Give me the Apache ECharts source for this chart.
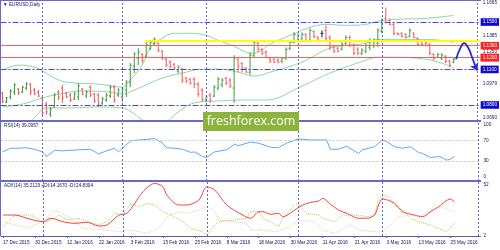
<!DOCTYPE html>
<html><head><meta charset="utf-8">
<script src="https://cdn.jsdelivr.net/npm/echarts@6/dist/echarts.min.js"></script>
<style>html,body{margin:0;padding:0;background:#fff}#c{width:500px;height:250px}</style>
</head><body><div id="c"></div>
<script>
// ---- data ----
const tickIndex = [0,8,16,24,32,40,48,56,64,72,80,88,96,104,112];
const tickLabels = ['17 Dec 2015','30 Dec 2015','12 Jan 2016','22 Jan 2016','3 Feb 2016','15 Feb 2016','25 Feb 2016','8 Mar 2016','18 Mar 2016','30 Mar 2016','11 Apr 2016','21 Apr 2016','3 May 2016','13 May 2016','25 May 2016'];
// [open, high, low, close]
const bars = [
[1.0901,1.0909,1.0817,1.0834],[1.0825,1.0867,1.0817,1.0859],[1.0867,1.0934,1.0850,1.0918],[1.0909,1.0985,1.0884,1.0968],
[1.0934,1.0943,1.0884,1.0901],[1.0909,1.0960,1.0901,1.0951],[1.0943,1.0993,1.0926,1.0976],[1.0976,1.0985,1.0884,1.0909],
[1.0926,1.0943,1.0884,1.0892],[1.0909,1.0926,1.0867,1.0876],[1.0859,1.0867,1.0699,1.0733],[1.0808,1.0825,1.0716,1.0741],
[1.0724,1.0783,1.0699,1.0766],[1.0792,1.0901,1.0775,1.0884],[1.0909,1.0926,1.0842,1.0867],[1.0943,1.0968,1.0817,1.0859],
[1.0901,1.0909,1.0859,1.0867],[1.0884,1.0901,1.0825,1.0842],[1.0850,1.0909,1.0842,1.0892],[1.0867,1.0985,1.0842,1.0960],
[1.0934,1.0943,1.0884,1.0892],[1.0876,1.0926,1.0859,1.0909],[1.0951,1.0968,1.0867,1.0884],[1.0892,1.0901,1.0817,1.0834],
[1.0884,1.0901,1.0783,1.0808],[1.0817,1.0867,1.0800,1.0850],[1.0842,1.0901,1.0825,1.0884],[1.0876,1.0968,1.0859,1.0951],
[1.0951,1.0968,1.0817,1.0842],[1.0884,1.0943,1.0867,1.0926],[1.0867,1.0951,1.0825,1.0934],[1.0926,1.1010,1.0867,1.0993],
[1.0993,1.1153,1.0951,1.1136],[1.1128,1.1245,1.1069,1.1228],[1.1195,1.1279,1.1136,1.1245],[1.1228,1.1237,1.1153,1.1178],
[1.1212,1.1329,1.1203,1.1312],[1.1279,1.1346,1.1262,1.1329],[1.1321,1.1371,1.1304,1.1354],[1.1321,1.1329,1.1245,1.1262],
[1.1254,1.1262,1.1178,1.1195],[1.1186,1.1195,1.1119,1.1136],[1.1161,1.1178,1.1111,1.1128],[1.1144,1.1153,1.1094,1.1111],
[1.1086,1.1136,1.1069,1.1119],[1.1102,1.1111,1.0985,1.1010],[1.1027,1.1035,1.0985,1.1002],[1.1018,1.1027,1.0968,1.0985],
[1.1018,1.1035,1.0943,1.0976],[1.0976,1.0993,1.0867,1.0892],[1.0926,1.0943,1.0825,1.0850],[1.0842,1.0884,1.0825,1.0867],
[1.0884,1.0901,1.0817,1.0842],[1.0876,1.0968,1.0867,1.0951],[1.0943,1.1035,1.0926,1.1018],[1.0968,1.1027,1.0951,1.1010],
[1.1027,1.1035,1.0968,1.0985],[1.1010,1.1027,1.0943,1.0960],[1.0943,1.1220,1.0817,1.1195],[1.1186,1.1195,1.1077,1.1128],
[1.1153,1.1161,1.1077,1.1111],[1.1111,1.1119,1.1069,1.1077],[1.1077,1.1245,1.1052,1.1220],[1.1220,1.1346,1.1203,1.1329],
[1.1321,1.1329,1.1245,1.1270],[1.1270,1.1279,1.1220,1.1237],[1.1245,1.1262,1.1195,1.1203],[1.1195,1.1203,1.1153,1.1170],
[1.1186,1.1195,1.1153,1.1161],[1.1178,1.1195,1.1153,1.1161],[1.1170,1.1203,1.1153,1.1195],[1.1195,1.1287,1.1178,1.1270],
[1.1279,1.1346,1.1262,1.1329],[1.1329,1.1413,1.1321,1.1396],[1.1346,1.1405,1.1329,1.1388],[1.1363,1.1413,1.1346,1.1396],
[1.1396,1.1405,1.1329,1.1346],[1.1346,1.1447,1.1329,1.1430],[1.1422,1.1430,1.1363,1.1380],[1.1371,1.1380,1.1329,1.1346],
[1.1405,1.1430,1.1371,1.1405],[1.1430,1.1472,1.1346,1.1363],[1.1371,1.1388,1.1262,1.1287],[1.1296,1.1304,1.1237,1.1254],
[1.1279,1.1287,1.1245,1.1254],[1.1270,1.1329,1.1262,1.1312],[1.1321,1.1388,1.1304,1.1371],[1.1371,1.1388,1.1287,1.1304],
[1.1304,1.1321,1.1220,1.1237],[1.1270,1.1287,1.1220,1.1237],[1.1237,1.1279,1.1220,1.1262],[1.1254,1.1321,1.1237,1.1304],
[1.1287,1.1363,1.1262,1.1346],[1.1304,1.1363,1.1279,1.1346],[1.1321,1.1447,1.1287,1.1430],[1.1422,1.1531,1.1405,1.1514],
[1.1531,1.1623,1.1489,1.1497],[1.1514,1.1531,1.1472,1.1480],[1.1480,1.1497,1.1388,1.1405],[1.1405,1.1413,1.1388,1.1396],
[1.1405,1.1413,1.1371,1.1380],[1.1396,1.1405,1.1363,1.1371],[1.1380,1.1447,1.1371,1.1430],[1.1405,1.1413,1.1363,1.1371],
[1.1363,1.1371,1.1304,1.1312],[1.1338,1.1346,1.1304,1.1312],[1.1338,1.1346,1.1304,1.1321],[1.1312,1.1321,1.1220,1.1237],
[1.1228,1.1237,1.1178,1.1195],[1.1203,1.1237,1.1195,1.1228],[1.1195,1.1237,1.1178,1.1220],[1.1212,1.1220,1.1153,1.1170],
[1.1170,1.1178,1.1119,1.1136],[1.1161,1.1195,1.1153,1.1186]
];
// Bollinger bands [bar index, price]
const upperBand = [[0,1.1094],[4,1.1136],[8,1.1119],[11,1.1069],[13,1.1027],[16,1.0993],[24,1.0976],[30,1.0951],[32,1.1010],[35,1.1136],[37,1.1279],[40,1.1363],[43,1.1405],[47,1.1405],[51,1.1388],[54,1.1346],[58,1.1295],[60,1.1262],[62,1.1237],[64,1.1245],[67,1.1312],[72,1.1388],[77,1.1455],[81,1.1480],[86,1.1472],[91,1.1480],[94,1.1506],[98,1.1522],[106,1.1531],[113,1.1556]];
const middleBand = [[0,1.0783],[5,1.0808],[10,1.0859],[14,1.0892],[20,1.0918],[27,1.0909],[30,1.0892],[33,1.0926],[37,1.0985],[40,1.1027],[45,1.1069],[50,1.1102],[54,1.1102],[59,1.1077],[63,1.1044],[67,1.1077],[75,1.1161],[82,1.1279],[91,1.1321],[94,1.1354],[106,1.1354],[113,1.1329]];
const lowerBand = [[0,1.0506],[5,1.0590],[8,1.0691],[11,1.0775],[16,1.0775],[24,1.0783],[30,1.0775],[33,1.0724],[35,1.0674],[38,1.0632],[41,1.0657],[44,1.0741],[48,1.0817],[54,1.0834],[62,1.0842],[66,1.0842],[75,1.0960],[82,1.1069],[91,1.1178],[94,1.1203],[98,1.1203],[106,1.1186],[110,1.1153],[113,1.1111]];
const rsi = [[0,48],[2,55],[4,55],[6,56],[8,53],[10,48],[11,39],[13,51],[15,50],[19,52],[22,53],[24,44],[26,50],[28,55],[29,48],[30,55],[32,69],[34,71],[36,72],[38,74],[40,65],[41,56],[43,55],[45,53],[47,47],[48,48],[50,39],[51,37],[53,48],[56,52],[58,63],[59,60],[62,67],[64,65],[67,57],[69,56],[71,65],[74,73],[77,71],[79,71],[81,71],[82,53],[84,53],[86,59],[89,45],[90,52],[93,58],[95,71],[96,68],[98,58],[100,55],[102,58],[104,47],[105,45],[107,37],[109,39],[110,37],[111,32],[112,34],[113,39.1]];
const adx = [[0,22.4],[3,22.4],[6,19.2],[10,15.8],[12,19.2],[15,15.8],[18,14.2],[21,15.2],[24,11.6],[26,12.6],[29,22.4],[31,24.1],[33,34],[35,45.4],[38,53.7],[40,50.3],[41,42.1],[44,32.3],[46,32.3],[49,37.2],[51,50.3],[53,47.1],[56,32.3],[60,22.4],[62,19.2],[64,25.7],[65,25.7],[67,23.1],[69,24.1],[70,20.7],[73,27.3],[75,32.3],[77,34.9],[79,36.2],[80,38.9],[82,33],[84,27.3],[86,24.1],[89,19.2],[91,19.2],[93,22.4],[94,32.3],[95,38.2],[98,34],[100,25.7],[103,22.4],[105,20.7],[107,25.7],[109,30.6],[112,38.2],[113,35.2]];
const plusDI = [[0,10.9],[3,22.4],[7,22.4],[10,15.8],[12,17],[14,22.4],[16,17.5],[19,19.2],[24,12.6],[26,15.8],[28,24.1],[30,22.4],[32,34],[34,30.6],[36,34],[38,32.3],[40,25.7],[42,22.4],[45,15.8],[47,9.3],[50,5.9],[51,2.7],[53,12.6],[54,15.8],[58,17.5],[61,19.2],[62,25.7],[64,25.7],[65,19.2],[67,15.8],[69,10.9],[70,19.2],[73,32.3],[74,33],[76,24.1],[79,22.4],[80,19.2],[83,15.8],[85,22.4],[89,22.4],[91,20.7],[93,22.4],[94,38.9],[96,42.1],[98,32.3],[100,27.3],[102,19.2],[104,15.8],[107,12.6],[110,7.6],[111,5.9],[113,14.2]];
const minusDI = [[0,15.8],[6,9.6],[10,15.8],[13,27.3],[17,19.5],[20,9.3],[26,7.6],[29,5.9],[31,7.6],[34,5.9],[36,4.4],[39,9.3],[41,20.7],[44,25.7],[46,24.1],[49,27.3],[51,30.6],[53,25.7],[54,17.5],[58,15.8],[61,14.2],[62,7.6],[65,7.6],[68,5.9],[72,10.9],[74,17.5],[78,15.8],[80,7.6],[83,4.4],[87,12.6],[89,7.6],[93,5.9],[95,5.9],[97,12.6],[99,20.7],[102,22.4],[104,20.7],[107,25.7],[108,34],[109,30.6],[112,27.3],[113,24.8]];
const blueLevels = [1.1520, 1.1102, 1.0817];
const redLevels = [1.1332, 1.1186, 1.1153];
const yellowLevel = 1.1344, yellowStart = 35.75;
const vLines = [10, 30, 51, 74, 95, 119];
const priceTicks = [1.1665, 1.1385, 1.1250, 1.0979, 1.0690];
const rsiTicks = [0, 30, 70, 100];
const adxTicks = [2, 52];
const arrowPath = [[113.6,1.1186],[114.6,1.1275],[115.6,1.1322],[116.6,1.1285],[117.6,1.1203],[118.5,1.1118]];
const arrowTip = [[118.5,1.1118],[118.9,1.1092]];

// ---- chart ----
const FONT = 'Liberation Sans';
const FS = 4.7;
const TXT = '#14145a';
const chart = echarts.init(document.getElementById('c'), null, {renderer:'canvas', width:500, height:250});
const vStyle = {color:'#6464d4', type:[2,2], width:1};
const vData = vLines.map(v => ({xAxis:v, lineStyle:vStyle}));
const baseMark = {
  symbol:['none','none'], silent:true, animation:false,
  label:{show:false, position:'end', distance:1, fontSize:FS, fontFamily:FONT, color:'#fff', padding:[1.6,2,1,2],
         formatter: p => Number(p.value).toFixed(4)}
};
const xAx = (g, show) => ({
  type:'value', gridIndex:g, min:-0.5, max:119.5, show: show,
  axisLine:{show:true, lineStyle:{color:'#5a5aa8', width:1}},
  axisTick:{show:true, customValues:tickIndex, length:2, lineStyle:{color:'#5a5aa8'}},
  splitLine:{show:false},
  axisLabel:{customValues:tickIndex, fontSize:FS, fontFamily:FONT, color:TXT, align:'left', margin:4,
    formatter: v => tickLabels[tickIndex.indexOf(Math.round(v))] || ''}
});
const yAx = (g, min, max, ticks, fmt) => ({
  type:'value', gridIndex:g, min:min, max:max, position:'right', scale:true,
  axisLine:{show:false}, axisTick:{show:false}, splitLine:{show:false},
  axisLabel:{customValues:ticks, fontSize:FS, fontFamily:FONT, color:TXT, margin:3, formatter:fmt}
});

const option = {
  animation:false,
  backgroundColor:'#ffffff',
  grid:[
    {left:0.5, width:480, top:0, height:121},
    {left:0.5, width:480, top:121, height:60},
    {left:0.5, width:480, top:181, height:55}
  ],
  xAxis:[xAx(0,false), xAx(1,false), xAx(2,true)],
  yAxis:[
    yAx(0, 1.06648, 1.16818, priceTicks, v => v.toFixed(4)),
    yAx(1, -8.3, 107.7, rsiTicks, v => String(Math.round(v))),
    yAx(2, 1.7, 56, adxTicks, v => String(Math.round(v)))
  ],
  series:[
    {type:'line', name:'upper', xAxisIndex:0, yAxisIndex:0, data:upperBand, smooth:0.4, showSymbol:false, symbol:'none',
     lineStyle:{color:'#8fd6a6', width:1}, z:2},
    {type:'line', name:'middle', xAxisIndex:0, yAxisIndex:0, data:middleBand, smooth:0.4, showSymbol:false, symbol:'none',
     lineStyle:{color:'#8fd6a6', width:1}, z:2},
    {type:'line', name:'lower', xAxisIndex:0, yAxisIndex:0, data:lowerBand, smooth:0.4, showSymbol:false, symbol:'none',
     lineStyle:{color:'#8fd6a6', width:1}, z:2},
    {type:'custom', name:'EURUSD', xAxisIndex:0, yAxisIndex:0, z:3,
     data: bars.map((b, i) => [i, b[0], b[1], b[2], b[3]]),
     encode:{x:0, y:[1,2,3,4]},
     renderItem:function(params, api){
       const i = api.value(0), o = api.value(1), h = api.value(2), l = api.value(3), c = api.value(4);
       const pH = api.coord([i,h]), pL = api.coord([i,l]), pO = api.coord([i,o]), pC = api.coord([i,c]);
       const col = c > o ? '#3f9b3f' : (c < o ? '#f05858' : '#222222');
       const st = {stroke:col, lineWidth:1};
       return {type:'group', children:[
         {type:'line', shape:{x1:pH[0], y1:pH[1], x2:pL[0], y2:pL[1]}, style:st},
         {type:'line', shape:{x1:pO[0]-1.5, y1:pO[1], x2:pO[0], y2:pO[1]}, style:st},
         {type:'line', shape:{x1:pC[0], y1:pC[1], x2:pC[0]+1.5, y2:pC[1]}, style:st}
       ]};
     },
     markLine: Object.assign({}, baseMark, {data:[
       ...vData,
       ...blueLevels.map(v => ({yAxis:v, lineStyle:{color:'#4646e0', type:[6,2,2,2], width:1},
                                 label:{show:true, backgroundColor:'#0b0bd0'}})),
       [{coord:[yellowStart, yellowLevel], lineStyle:{color:'#ffff00', width:2.2, type:'solid'}, label:{show:false}},
        {coord:[119.5, yellowLevel]}],
       ...redLevels.map(v => ({yAxis:v, lineStyle:{color:'#f06262', type:'solid', width:1},
                                label:{show:true, backgroundColor:'#ff2020'}}))
     ]})
    },
    {type:'line', name:'arrow', xAxisIndex:0, yAxisIndex:0, data:arrowPath, smooth:0.5, showSymbol:false, symbol:'none',
     lineStyle:{color:'#2a2ad6', width:1.8}, z:6},
    {type:'lines', name:'arrowHead', coordinateSystem:'cartesian2d', xAxisIndex:0, yAxisIndex:0, z:6,
     polyline:false, symbol:['none','arrow'], symbolSize:7,
     lineStyle:{color:'#2a2ad6', width:1.8, opacity:1},
     data:[{coords:arrowTip}]},
    {type:'line', name:'RSI', xAxisIndex:1, yAxisIndex:1, data:rsi, showSymbol:false, symbol:'none',
     lineStyle:{color:'#5aaaf0', width:1}, z:3,
     markLine: Object.assign({}, baseMark, {data:[
       {yAxis:70, lineStyle:{color:'#c4c4c4', type:[2,2], width:1}},
       {yAxis:30, lineStyle:{color:'#c4c4c4', type:[2,2], width:1}},
       ...vData
     ]})
    },
    {type:'line', name:'ADX', xAxisIndex:2, yAxisIndex:2, data:adx, smooth:0.3, showSymbol:false, symbol:'none',
     lineStyle:{color:'#f04444', width:1}, z:4,
     markLine: Object.assign({}, baseMark, {data:vData})
    },
    {type:'line', name:'+DI', xAxisIndex:2, yAxisIndex:2, data:plusDI, showSymbol:false, symbol:'none',
     lineStyle:{color:'#a9cc4c', width:1, type:[1,1]}, z:3},
    {type:'line', name:'-DI', xAxisIndex:2, yAxisIndex:2, data:minusDI, showSymbol:false, symbol:'none',
     lineStyle:{color:'#f2c9a6', width:1, type:[1,1]}, z:3}
  ],
  graphic:[
    {type:'rect', z:50, shape:{x:0, y:0, width:481, height:1}, style:{fill:'#6a6ac6'}},
    {type:'rect', z:50, shape:{x:0, y:0, width:1, height:236}, style:{fill:'#6a6ac6'}},
    {type:'rect', z:50, shape:{x:0, y:120, width:481, height:2}, style:{fill:'#6a6ac6'}},
    {type:'rect', z:50, shape:{x:0, y:180, width:481, height:2}, style:{fill:'#6a6ac6'}},
    {type:'text', z:60, left:3, top:2, style:{text:'▼ EURUSD,Daily', fontSize:FS, fontFamily:FONT, fill:TXT}},
    {type:'text', z:60, left:4, top:123, style:{text:'RSI(14) 39.0957', fontSize:FS, fontFamily:FONT, fill:TXT}},
    {type:'text', z:60, left:4, top:183, style:{text:'ADX(14) 35.2123 +DI:14.1670 -DI:24.8304', fontSize:FS, fontFamily:FONT, fill:TXT}},
    {type:'group', z:70, left:203, top:112, children:[
      {type:'rect', z:70, shape:{x:0, y:0, width:96, height:19}, style:{fill:'#8cb43c'}},
      {type:'text', z:71, x:48, y:9.5, style:{text:'freshforex.com', fill:'#ffffff', fontSize:12.5, fontFamily:'Open Sans',
        align:'center', verticalAlign:'middle'}}
    ]}
  ]
};
chart.setOption(option);
</script>
</body></html>
